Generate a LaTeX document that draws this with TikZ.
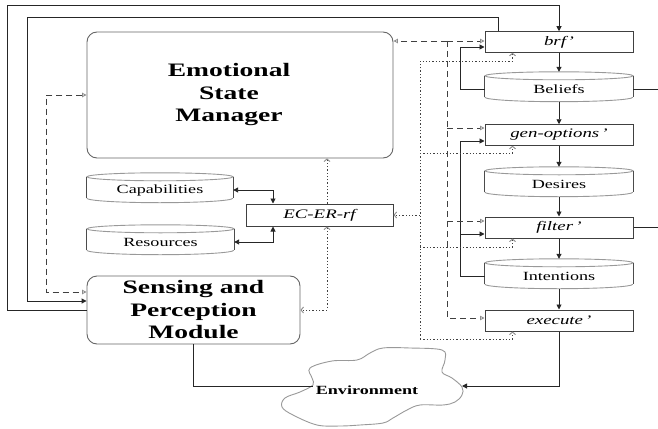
\documentclass[tikz,border=0pt]{standalone}
\usepackage{fontspec}
\setmainfont{Liberation Serif}[FakeStretch=1.45]
\usetikzlibrary{arrows.meta,calc}

\tikzset{
  >={Triangle[length=5pt,width=5pt]},
  opentip/.tip={Triangle[open,length=4.5pt,width=4.5pt,color=black!45]},
  barbtip/.tip={Straight Barb[length=2.5pt,width=6pt,color=black!45]},
  line/.style={draw=black!85, line width=0.95pt},
  arr/.style={line, ->},
  dashline/.style={draw=black!75, line width=0.9pt, dash pattern=on 6pt off 4pt},
  dotline/.style={draw=black!75, line width=0.9pt, dash pattern=on 1.3pt off 2pt},
  dbside/.style={draw=black!70, line width=1pt},
  dbcurve/.style={draw=black!40, line width=0.9pt},
  cloudline/.style={draw=black!40, line width=0.9pt},
  bigbox/.style={draw=black!60, line width=0.9pt, rounded corners=10pt, inner sep=0pt},
  bigtxt/.style={font=\fontsize{19}{22.5}\selectfont\bfseries, align=center},
  procbox/.style={draw=black!75, line width=1pt, minimum width=148pt,
    minimum height=20.5pt, inner sep=0pt, font=\fontsize{13}{15}\selectfont\itshape},
  dbnode/.style={minimum width=148pt, minimum height=26pt, inner sep=0pt,
    font=\fontsize{12.5}{14}\selectfont},
  envtxt/.style={font=\fontsize{12.5}{14}\selectfont\bfseries, inner sep=0pt},
}

% database cylinder drawn around a named node: #1 node, #2 half width
\newcommand\dbdraw[2]{%
  \draw[dbcurve] (#1.north) ellipse [x radius=#2pt, y radius=4pt];
  \draw[dbside] (#1.north west) -- ($(#1.south west)+(0,5)$);
  \draw[dbside] (#1.north east) -- ($(#1.south east)+(0,5)$);
  \draw[dbcurve] ($(#1.south west)+(0,5)$)
    arc[start angle=180, end angle=360, x radius=#2pt, y radius=4.5pt];
}

\begin{document}
\begin{tikzpicture}[x=1pt,y=1pt]
\useasboundingbox (0,0) rectangle (658,-428);

% ---- main modules
\node[bigbox, minimum width=306pt, minimum height=126pt] (esm) at (240,-95) {};
\node[bigtxt] (esmtxt) at (229,-95) {Emotional\\State\\Manager};
\node[bigbox, bigtxt, minimum width=213pt, minimum height=68pt] (sens) at (193.5,-310)
  {Sensing and\\Perception\\Module};

% ---- capability / resource stores
\node[dbnode, minimum width=146pt] (cap) at (160,-190) {Capabilities};
\dbdraw{cap}{73}
\node[dbnode, minimum width=147pt] (res) at (160.5,-242) {Resources};
\dbdraw{res}{73.5}
\node[procbox, minimum width=147pt, minimum height=22pt] (ecer) at (319.5,-215) {EC-ER-rf};

% ---- BDI column
\node[procbox] (brf) at (559,-42) {brf'};
\node[dbnode] (beliefs) at (559,-89) {Beliefs};
\dbdraw{beliefs}{74}
\node[procbox] (genopt) at (559,-135) {gen-options\,'};
\node[dbnode] (desires) at (559,-184) {Desires};
\dbdraw{desires}{74}
\node[procbox, minimum height=21pt] (filter) at (559,-227.5) {filter\,'};
\node[dbnode] (intentions) at (559,-276) {Intentions};
\dbdraw{intentions}{74}
\node[procbox, minimum height=21pt] (execute) at (559,-320.5) {execute\,'};

% ---- environment cloud
\draw[cloudline] plot[smooth cycle, tension=0.6] coordinates {
  (310,-368) (332,-361) (357,-360) (370,-353) (383,-348) (410,-348) (442,-350)
  (445,-360) (442,-372) (452,-378) (462,-387) (462,-395) (455,-402) (443,-405)
  (420,-405) (407,-410) (393,-418) (383,-423) (360,-425) (340,-426) (317,-425)
  (293,-415) (282,-407) (285,-398) (300,-392) (313,-385) (312,-378)};
\node[envtxt] (env) at (367,-390) {Environment};
\coordinate (envR) at (462,-386);
\coordinate (envL) at (313,-386);

% ---- BDI chain
\draw[arr] (brf.south) -- ($(beliefs.north)+(0,4)$);
\draw[arr] (beliefs.south) -- (genopt.north);
\draw[arr] (genopt.south) -- ($(desires.north)+(0,4)$);
\draw[arr] (desires.south) -- (filter.north);
\draw[arr] (filter.south) -- ($(intentions.north)+(0,4)$);
\draw[arr] (intentions.south) -- (execute.north);

% feedback into the column
\draw[arr] (beliefs.west) -- (460,-89) |- ($(brf.west)+(0,-5)$);
\draw[arr] (intentions.west) -- (460,-276) |- ($(genopt.west)+(0,-6)$);
\draw[arr] (460,-234) -- ($(filter.west)+(0,-6.5)$);

% outputs leaving to the right
\coordinate (bout) at (658,-89);
\coordinate (fout) at (658,-227.5);
\draw[line] (beliefs.east) -- (bout);
\draw[line] (filter.east) -- (fout);

% action on and perception of the environment
\draw[arr] (execute.south) |- (envR);
\draw[line] (sens.south) |- (envL);

% outer loops between perception and belief revision
\draw[arr] (sens.west) -- (7,-310) |- ($(brf.north)+(0,26)$) -- (brf.north);
\draw[arr] ($(brf.north west)+(14,0)$) -- ++(0,14) -| (27,-301) -- (sens.west |- 0,-301);

% emotional state influence (dashed)
\draw[dashline, opentip-opentip] (esm.west) -- (46,-95) |- (sens.west |- 0,-292);
\coordinate (dtop) at (447,-41);
\draw[dashline, -opentip] (dtop) -- (esm.east |- dtop);
\draw[dashline, -opentip] (dtop) -- (brf.west |- dtop);
\draw[dashline, -opentip] (dtop) |- (execute.west |- 0,-318);
\draw[dashline, -opentip] (447,-128) -- (genopt.west |- 0,-128);
\draw[dashline, -opentip] (447,-221) -- (filter.west |- 0,-221);

% EC-ER-rf influence (dotted)
\draw[dotline, -barbtip] (420,-339) -- (420,-61) -| ($(brf.south west)+(28,0)$);
\draw[dotline, -barbtip] (420,-153) -| ($(genopt.south west)+(28,0)$);
\draw[dotline, -barbtip] (420,-247) -| ($(filter.south west)+(28,0)$);
\draw[dotline, -barbtip] (420,-339) -| ($(execute.south west)+(28,0)$);
\draw[dotline, -barbtip] (420,-215) -- (ecer.east);
\draw[dotline, -barbtip] (ecer.north -| 327,0) -- (esm.south -| 327,0);
\draw[dotline, barbtip-barbtip] (ecer.south -| 327,0) |- (sens.east);

% capabilities and resources
\draw[line, <->] (cap.east) -| (ecer.north -| 273,0);
\draw[line, <->] (res.east) -| (ecer.south -| 273,0);
\end{tikzpicture}
\end{document}
